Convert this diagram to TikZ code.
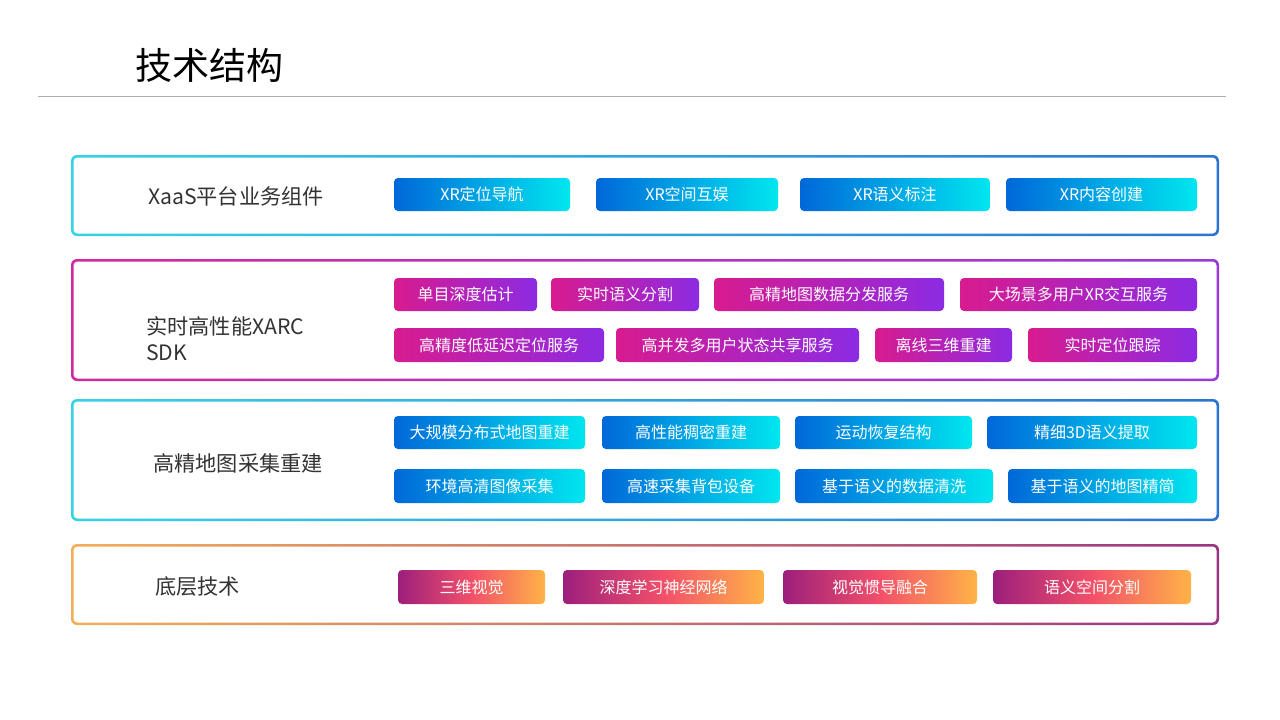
\documentclass[tikz,border=0pt]{standalone}
\usepackage{fontspec}
\setmainfont{Noto Sans CJK SC}
\usepackage{tikz}

\definecolor{chipblueL}{HTML}{0068D9}
\definecolor{chipblueR}{HTML}{00E6EF}
\definecolor{chippinkL}{HTML}{D81B8F}
\definecolor{chippinkR}{HTML}{8C2BE3}
\definecolor{chiporaL}{HTML}{9C1F7C}
\definecolor{chiporaM}{HTML}{F2506A}
\definecolor{chiporaR}{HTML}{FFB347}
\definecolor{frcyanL}{HTML}{35D3E6}
\definecolor{frcyanR}{HTML}{2C74CF}
\definecolor{frpinkL}{HTML}{D02A9E}
\definecolor{frpinkR}{HTML}{9A3BD8}
\definecolor{froraL}{HTML}{F2AE5A}
\definecolor{froraR}{HTML}{9A3584}
\definecolor{labelgray}{HTML}{333333}

\begin{document}
\begin{tikzpicture}[x=1pt,y=-1pt,
	chip/.style={rectangle,rounded corners=4pt,inner sep=0,outer sep=0,minimum height=33pt,text=white,font=\fontsize{16}{19}\selectfont},
	bluechip/.style={chip,left color=chipblueL,right color=chipblueR},
	pinkchip/.style={chip,left color=chippinkL,right color=chippinkR},
	orachip/.style={chip,left color=chiporaL,right color=chiporaR,middle color=chiporaM},
	layerlabel/.style={anchor=west,inner sep=0,text=labelgray,font=\fontsize{21.2}{26}\selectfont,align=left}]
	\useasboundingbox[fill=white] (0,0) rectangle (1280,720);

	% title
	\node[anchor=west,inner sep=0,font=\fontsize{37}{44}\selectfont] (title) at (135,65) {技术结构};
	\draw[color=black!32,line width=1pt] (38,96) -- (1226,96);

	% frames
	\shade[rounded corners=6pt,left color=frcyanL,right color=frcyanR] (71,155) rectangle (1219,236);
	\fill[white,rounded corners=4pt] (73.5,157.5) rectangle (1216.5,233.5);
	\shade[rounded corners=6pt,left color=frpinkL,right color=frpinkR] (71,259) rectangle (1219,381);
	\fill[white,rounded corners=4pt] (73.5,261.5) rectangle (1216.5,378.5);
	\shade[rounded corners=6pt,left color=frcyanL,right color=frcyanR] (71,399) rectangle (1219,521);
	\fill[white,rounded corners=4pt] (73.5,401.5) rectangle (1216.5,518.5);
	\shade[rounded corners=6pt,left color=froraL,right color=froraR] (71,544) rectangle (1219,625);
	\fill[white,rounded corners=4pt] (73.5,546.5) rectangle (1216.5,622.5);

	% layer names
	\node[layerlabel] (xaas) at (148,196) {XaaS平台业务组件};
	\node[layerlabel] (sdk) at (146,339) {实时高性能XARC\\SDK};
	\node[layerlabel] (hdmap) at (153,463) {高精地图采集重建};
	\node[layerlabel] (base) at (155,587) {底层技术};

	% XaaS
	\node[bluechip,minimum width=176pt] (xrnav) at (482,194.5) {XR定位导航};
	\node[bluechip,minimum width=182pt] (xrfun) at (687,194.5) {XR空间互娱};
	\node[bluechip,minimum width=190pt] (xrsem) at (895,194.5) {XR语义标注};
	\node[bluechip,minimum width=191pt] (xrcre) at (1101.5,194.5) {XR内容创建};

	% SDK
	\node[pinkchip,minimum width=143pt] (mono) at (465.5,294.5) {单目深度估计};
	\node[pinkchip,minimum width=148pt] (segrt) at (625,294.5) {实时语义分割};
	\node[pinkchip,minimum width=230pt] (mapdist) at (829,294.5) {高精地图数据分发服务};
	\node[pinkchip,minimum width=237pt] (multixr) at (1078.5,294.5) {大场景多用户XR交互服务};
	\node[pinkchip,minimum width=210pt,minimum height=34pt] (lowlat) at (499,345) {高精度低延迟定位服务};
	\node[pinkchip,minimum width=243pt,minimum height=34pt] (share) at (737.5,345) {高并发多用户状态共享服务};
	\node[pinkchip,minimum width=137pt,minimum height=34pt] (offline) at (943.5,345) {离线三维重建};
	\node[pinkchip,minimum width=169pt,minimum height=34pt] (track) at (1112.5,345) {实时定位跟踪};

	% HD map
	\node[bluechip,minimum width=191pt] (distrec) at (489.5,432.5) {大规模分布式地图重建};
	\node[bluechip,minimum width=178pt] (dense) at (691,432.5) {高性能稠密重建};
	\node[bluechip,minimum width=177pt] (sfm) at (883.5,432.5) {运动恢复结构};
	\node[bluechip,minimum width=210pt] (sem3d) at (1092,432.5) {精细3D语义提取};
	\node[bluechip,minimum width=191pt,minimum height=34pt] (imgcap) at (489.5,486) {环境高清图像采集};
	\node[bluechip,minimum width=178pt,minimum height=34pt] (backpack) at (691,486) {高速采集背包设备};
	\node[bluechip,minimum width=198pt,minimum height=34pt] (clean) at (894,486) {基于语义的数据清洗};
	\node[bluechip,minimum width=189pt,minimum height=34pt] (simplify) at (1102.5,486) {基于语义的地图精简};

	% base
	\node[orachip,minimum width=147pt,minimum height=34pt] (vision) at (471.5,587) {三维视觉};
	\node[orachip,minimum width=201pt,minimum height=34pt] (deepnet) at (663.5,587) {深度学习神经网络};
	\node[orachip,minimum width=194pt,minimum height=34pt] (vio) at (880,587) {视觉惯导融合};
	\node[orachip,minimum width=198pt,minimum height=34pt] (spaceseg) at (1092,587) {语义空间分割};
\end{tikzpicture}
\end{document}
